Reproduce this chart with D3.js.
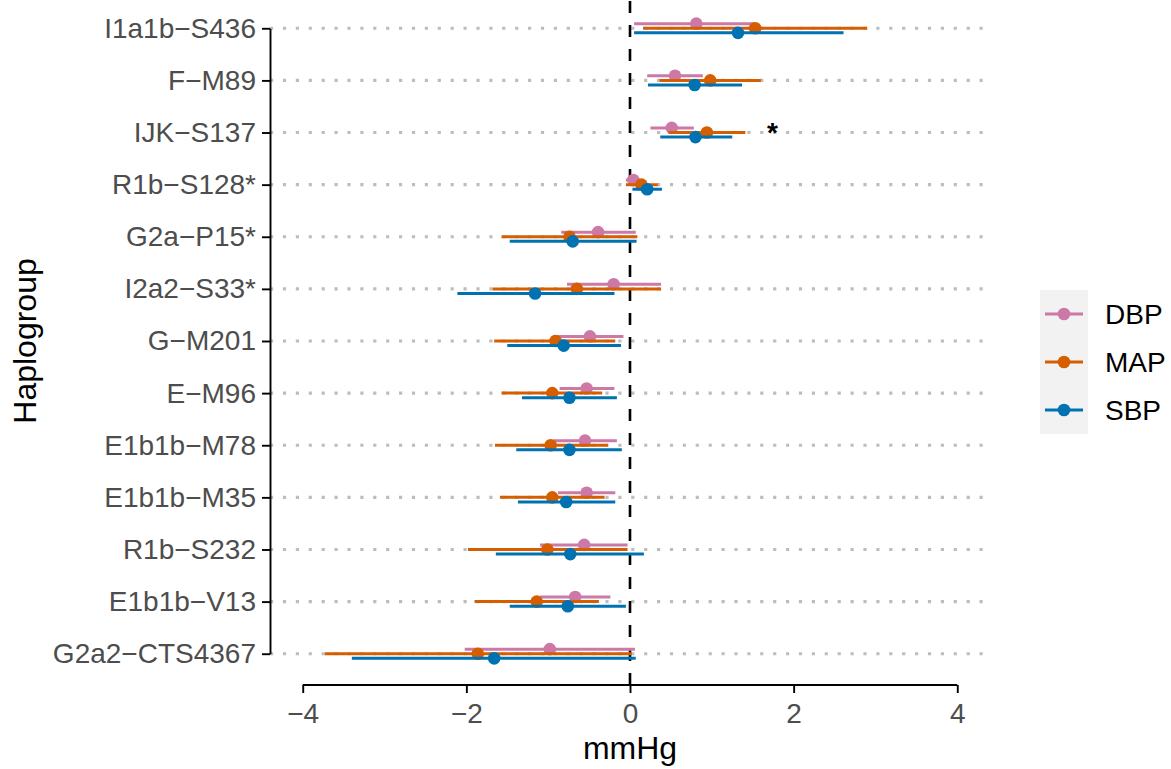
<!DOCTYPE html>
<html>
<head>
<meta charset="utf-8">
<script src="https://cdn.jsdelivr.net/npm/d3@7"></script>
<style>
    body { margin: 0; background: #fff; }
    #chart-area { width: 1171px; height: 769px; }
    text { font-family: "Liberation Sans", Arial, Helvetica, sans-serif; }
</style>
</head>
<body>
<div id="chart-area"></div>
<script>

// haplogroups, top to bottom
let haplogroups = ["I1a1b−S436", "F−M89", "IJK−S137", "R1b−S128*", "G2a−P15*", "I2a2−S33*",
    "G−M201", "E−M96", "E1b1b−M78", "E1b1b−M35", "R1b−S232", "E1b1b−V13", "G2a2−CTS4367"];

let seriesNames = ["DBP", "MAP", "SBP"];
let seriesColors = ["#CC79A7", "#D55E00", "#0072B2"];

// estimates and 95% CI (mmHg)
let dbpEst = [0.81, 0.55, 0.51, 0.04, -0.39, -0.20, -0.49, -0.53, -0.55, -0.53, -0.56, -0.67, -0.98];
let dbpLow = [0.05, 0.21, 0.25, -0.05, -0.84, -0.77, -0.94, -0.86, -0.94, -0.88, -1.10, -1.10, -2.02];
let dbpHigh = [1.52, 0.89, 0.78, 0.12, 0.07, 0.38, -0.08, -0.19, -0.16, -0.18, -0.03, -0.24, 0.06];

let mapEst = [1.53, 0.98, 0.94, 0.14, -0.74, -0.65, -0.91, -0.95, -0.97, -0.95, -1.01, -1.14, -1.86];
let mapLow = [0.16, 0.36, 0.47, -0.05, -1.57, -1.68, -1.66, -1.57, -1.65, -1.59, -1.98, -1.90, -3.73];
let mapHigh = [2.90, 1.60, 1.41, 0.34, 0.09, 0.38, -0.18, -0.34, -0.27, -0.31, -0.03, -0.38, 0.02];

let sbpEst = [1.32, 0.79, 0.80, 0.21, -0.70, -1.16, -0.81, -0.74, -0.74, -0.78, -0.73, -0.76, -1.66];
let sbpLow = [0.05, 0.22, 0.37, 0.03, -1.47, -2.11, -1.50, -1.32, -1.39, -1.37, -1.64, -1.47, -3.40];
let sbpHigh = [2.61, 1.37, 1.25, 0.39, 0.08, -0.19, -0.11, -0.16, -0.10, -0.18, 0.17, -0.05, 0.07];

let xTicks = [-4, -2, 0, 2, 4];
let xTickLabels = ["−4", "−2", "0", "2", "4"];

// significance marker
let starLabels = [{group: "IJK−S137", value: 1.74, text: "*"}];


class ForestVis {

    constructor(_parentElement) {
        this.parentElement = _parentElement;
        this.initVis();
    }

    initVis() {
        let vis = this;

        vis.margin = {top: -3, right: 181, bottom: 84, left: 270};
        vis.width = 1171 - vis.margin.left - vis.margin.right;
        vis.height = 769 - vis.margin.top - vis.margin.bottom;

        vis.svg = d3.select("#" + vis.parentElement).append("svg")
            .attr("width", 1171)
            .attr("height", 769)
            .append("g")
            .attr("transform", "translate(" + vis.margin.left + "," + vis.margin.top + ")");

        vis.xScale = d3.scaleLinear()
            .domain([-4.4, 4.4])
            .range([0, vis.width]);

        // discrete axis, 0.6 expansion each side
        let step = vis.height / (haplogroups.length - 1 + 1.2);
        vis.yScale = d3.scalePoint()
            .domain(haplogroups)
            .range([step * 0.6, vis.height - step * 0.6]);

        // dodge within a row
        vis.dodge = d3.scalePoint()
            .domain(seriesNames)
            .range([-4.6, 4.6]);

        vis.color = d3.scaleOrdinal()
            .domain(seriesNames)
            .range(seriesColors);

        vis.wrangleData();
    }

    wrangleData() {
        let vis = this;

        let est = [dbpEst, mapEst, sbpEst];
        let low = [dbpLow, mapLow, sbpLow];
        let high = [dbpHigh, mapHigh, sbpHigh];

        vis.displayData = [];
        seriesNames.forEach((s, j) => {
            haplogroups.forEach((h, i) => {
                vis.displayData.push({
                    series: s,
                    group: h,
                    est: est[j][i],
                    low: low[j][i],
                    high: high[j][i]
                });
            });
        });

        vis.updateVis();
    }

    updateVis() {
        let vis = this;

        // dotted grid lines at each haplogroup
        vis.svg.append("g")
            .selectAll("line")
            .data(haplogroups)
            .join("line")
            .attr("x1", 0)
            .attr("x2", vis.width)
            .attr("y1", d => vis.yScale(d))
            .attr("y2", d => vis.yScale(d))
            .attr("stroke", "#BDBDBD")
            .attr("stroke-width", 3.2)
            .attr("stroke-dasharray", "3.2,9.7");

        // reference line at zero, drawn bottom-up like ggplot
        vis.svg.append("line")
            .attr("x1", vis.xScale(0))
            .attr("x2", vis.xScale(0))
            .attr("y1", vis.height)
            .attr("y2", 0)
            .attr("stroke", "#000")
            .attr("stroke-width", 2.6)
            .attr("stroke-dasharray", "12,12");

        // pointranges
        seriesNames.forEach(s => {
            let rows = vis.displayData.filter(d => d.series === s);
            let g = vis.svg.append("g");

            g.selectAll("line")
                .data(rows)
                .join("line")
                .attr("x1", d => vis.xScale(d.low))
                .attr("x2", d => vis.xScale(d.high))
                .attr("y1", d => vis.yScale(d.group) + vis.dodge(d.series))
                .attr("y2", d => vis.yScale(d.group) + vis.dodge(d.series))
                .attr("stroke", vis.color(s))
                .attr("stroke-width", 3);

            g.selectAll("circle")
                .data(rows)
                .join("circle")
                .attr("cx", d => vis.xScale(d.est))
                .attr("cy", d => vis.yScale(d.group) + vis.dodge(d.series))
                .attr("r", 6.3)
                .attr("fill", vis.color(s));
        });

        // asterisk
        vis.svg.append("g")
            .selectAll("text")
            .data(starLabels)
            .join("text")
            .attr("x", d => vis.xScale(d.value))
            .attr("y", d => vis.yScale(d.group) + 9)
            .attr("text-anchor", "middle")
            .attr("font-size", 28)
            .attr("font-weight", "bold")
            .attr("fill", "#000")
            .text(d => d.text);

        // y axis (capped at first / last category)
        vis.yAxis = d3.axisLeft(vis.yScale)
            .tickSize(8)
            .tickSizeOuter(0)
            .tickPadding(6);

        let yAxisG = vis.svg.append("g")
            .attr("class", "axis axis--y")
            .call(vis.yAxis);

        // x axis (capped at -4 / 4)
        vis.xAxis = d3.axisBottom(vis.xScale)
            .tickValues(xTicks)
            .tickFormat((d, i) => xTickLabels[i])
            .tickSize(8)
            .tickSizeOuter(0)
            .tickPadding(10);

        let xAxisG = vis.svg.append("g")
            .attr("class", "axis axis--x")
            .attr("transform", "translate(0," + vis.height + ")")
            .call(vis.xAxis);

        xAxisG.select(".domain")
            .attr("d", "M" + vis.xScale(xTicks[0]) + ",0H" + vis.xScale(xTicks[xTicks.length - 1]));

        [yAxisG, xAxisG].forEach(a => {
            a.selectAll(".domain, .tick line")
                .attr("stroke", "#000")
                .attr("stroke-width", 1.9);
            a.selectAll(".tick text")
                .attr("fill", "#4D4D4D")
                .attr("font-size", 28)
                .attr("font-family", "'Liberation Sans', Arial, Helvetica, sans-serif");
        });

        // axis titles
        vis.svg.append("text")
            .attr("x", vis.width / 2)
            .attr("y", vis.height + 74)
            .attr("text-anchor", "middle")
            .attr("font-size", 32)
            .attr("fill", "#000")
            .text("mmHg");

        vis.svg.append("text")
            .attr("transform", "translate(" + (36 - vis.margin.left) + "," + (vis.height / 2) + ") rotate(-90)")
            .attr("text-anchor", "middle")
            .attr("font-size", 32)
            .attr("fill", "#000")
            .text("Haplogroup");

        // legend
        let legendY = d3.scalePoint()
            .domain(seriesNames)
            .range([317, 413]);

        let legend = vis.svg.append("g")
            .attr("transform", "translate(" + (vis.width + 50) + ",0)");

        legend.append("rect")
            .attr("x", 0)
            .attr("y", legendY(seriesNames[0]) - 24)
            .attr("width", 48)
            .attr("height", 48 * seriesNames.length)
            .attr("fill", "#F2F2F2");

        let keys = legend.selectAll(".key")
            .data(seriesNames)
            .join("g")
            .attr("class", "key")
            .attr("transform", d => "translate(0," + legendY(d) + ")");

        keys.append("line")
            .attr("x1", 5)
            .attr("x2", 43)
            .attr("stroke", d => vis.color(d))
            .attr("stroke-width", 3);

        keys.append("circle")
            .attr("cx", 24)
            .attr("r", 6.3)
            .attr("fill", d => vis.color(d));

        keys.append("text")
            .attr("x", 65)
            .attr("dy", "0.36em")
            .attr("font-size", 28)
            .attr("fill", "#000")
            .text(d => d);
    }
}

let forestVis = new ForestVis("chart-area");

</script>
</body>
</html>
